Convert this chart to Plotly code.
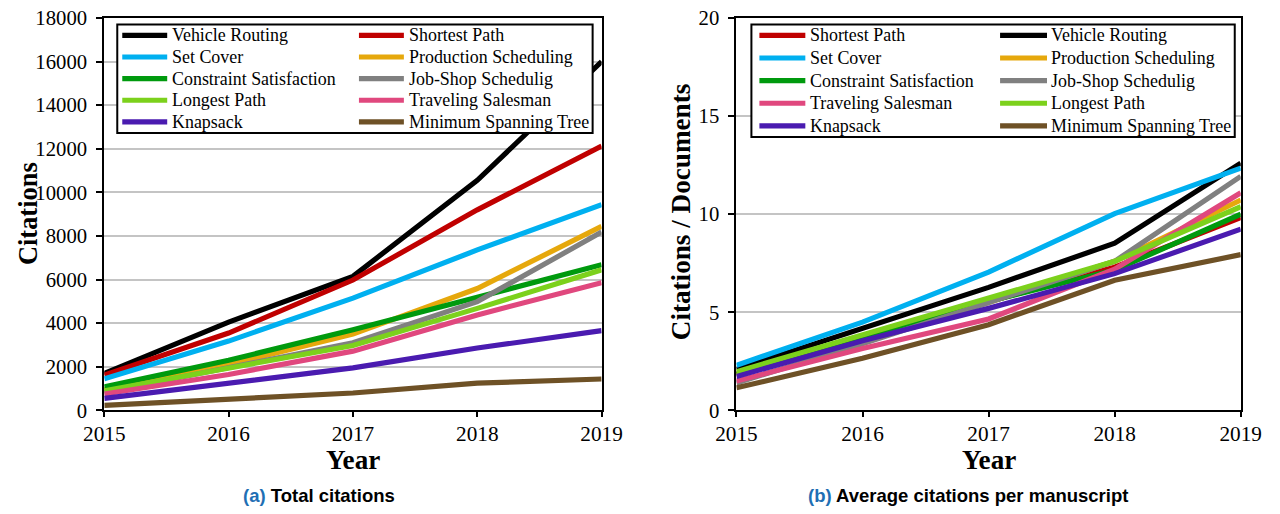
import plotly.graph_objects as go

W, H = 1280, 514

years = [2015, 2016, 2017, 2018, 2019]

# Total citations per year
total_vehicle_routing = [1700, 4050, 6150, 10550, 16000]
total_shortest_path = [1620, 3550, 5980, 9200, 12130]
total_set_cover = [1450, 3180, 5150, 7360, 9440]
total_production_scheduling = [950, 2100, 3500, 5590, 8440]
total_constraint_satisfaction = [1080, 2300, 3700, 5200, 6680]
total_job_shop = [820, 1950, 3100, 4990, 8180]
total_longest_path = [900, 1930, 2980, 4680, 6450]
total_traveling_salesman = [750, 1650, 2720, 4380, 5860]
total_knapsack = [550, 1220, 1950, 2860, 3660]
total_min_spanning_tree = [230, 520, 800, 1250, 1440]

# Average citations per document
avg_shortest_path = [1.85, 3.65, 5.55, 7.3, 9.83]
avg_vehicle_routing = [2.1, 4.2, 6.27, 8.52, 12.6]
avg_set_cover = [2.3, 4.5, 7.05, 10.03, 12.35]
avg_production_scheduling = [1.8, 3.6, 5.5, 7.6, 10.72]
avg_constraint_satisfaction = [1.85, 3.65, 5.55, 7.15, 10.0]
avg_job_shop = [1.4, 3.4, 5.5, 7.6, 11.93]
avg_traveling_salesman = [1.5, 3.15, 4.66, 7.2, 11.09]
avg_longest_path = [1.97, 3.85, 5.71, 7.6, 10.38]
avg_knapsack = [1.73, 3.55, 5.2, 6.97, 9.24]
avg_min_spanning_tree = [1.15, 2.66, 4.37, 6.63, 7.94]

y_ticks_total = [0, 2000, 4000, 6000, 8000, 10000, 12000, 14000, 16000, 18000]
y_ticks_avg = [0, 5, 10, 15, 20]

total_series = [
    ("Vehicle Routing", total_vehicle_routing),
    ("Shortest Path", total_shortest_path),
    ("Set Cover", total_set_cover),
    ("Production Scheduling", total_production_scheduling),
    ("Constraint Satisfaction", total_constraint_satisfaction),
    ("Job-Shop Schedulig", total_job_shop),
    ("Longest Path", total_longest_path),
    ("Traveling Salesman", total_traveling_salesman),
    ("Knapsack", total_knapsack),
    ("Minimum Spanning Tree", total_min_spanning_tree),
]
avg_series = [
    ("Shortest Path", avg_shortest_path),
    ("Vehicle Routing", avg_vehicle_routing),
    ("Set Cover", avg_set_cover),
    ("Production Scheduling", avg_production_scheduling),
    ("Constraint Satisfaction", avg_constraint_satisfaction),
    ("Job-Shop Schedulig", avg_job_shop),
    ("Traveling Salesman", avg_traveling_salesman),
    ("Longest Path", avg_longest_path),
    ("Knapsack", avg_knapsack),
    ("Minimum Spanning Tree", avg_min_spanning_tree),
]

colors = {
    "Vehicle Routing": "#000000",
    "Shortest Path": "#C00000",
    "Set Cover": "#00B0F0",
    "Production Scheduling": "#E6A80C",
    "Constraint Satisfaction": "#009A0E",
    "Job-Shop Schedulig": "#808080",
    "Longest Path": "#7CD11C",
    "Traveling Salesman": "#E0487E",
    "Knapsack": "#4A1BB0",
    "Minimum Spanning Tree": "#6E5126",
}

SERIF = "Liberation Serif"
SANS = "Liberation Sans"

# Layout positions are written on an inset grid: grid = G0 + S * page px.
GX0, GXS = 20.6, 0.9685
GY0, GYS = 10.5, 0.961
K = (GXS + GYS) / 2


def fx(gx):
    return (gx - GX0) / GXS / W


def fy(gy):
    return 1 - (gy - GY0) / GYS / H


def sz(v):
    return round(v / K, 2)


fig = go.Figure()

for name, vals in total_series:
    fig.add_trace(go.Scatter(x=years, y=vals, mode="lines", name=name,
                             line=dict(color=colors[name], width=sz(5)),
                             xaxis="x", yaxis="y", showlegend=False))
for name, vals in avg_series:
    fig.add_trace(go.Scatter(x=years, y=vals, mode="lines", name=name,
                             line=dict(color=colors[name], width=sz(5)),
                             xaxis="x2", yaxis="y2", showlegend=False))

y_dom = [fy(411.5), fy(17.5)]

common_x = dict(range=[2015, 2019], tickmode="array", tickvals=years,
                tickformat="d",
                showline=True, linecolor="black", linewidth=2, mirror=True,
                ticks="outside", ticklen=5, tickwidth=2, tickcolor="black",
                showgrid=False, zeroline=False, ticklabelstandoff=-2,
                ticklabeloverflow="allow",
                tickfont=dict(family=SERIF, size=sz(20.5), color="black"))
common_y = dict(showline=True, linecolor="black", linewidth=2, mirror=True,
                ticks="outside", ticklen=6, tickwidth=2, tickcolor="black",
                tickmode="array", tickformat="d",
                showgrid=True, gridcolor="#C4C4C4", gridwidth=1.5,
                zeroline=False, ticklabelstandoff=5,
                ticklabeloverflow="allow",
                tickfont=dict(family=SERIF, size=sz(20), color="black"))

fig.update_layout(
    width=W, height=H, autosize=False,
    margin=dict(l=0, r=0, t=0, b=0, pad=0),
    paper_bgcolor="white", plot_bgcolor="white",
    xaxis=dict(domain=[fx(104), fx(602)], anchor="y", **common_x),
    yaxis=dict(domain=y_dom, anchor="x", range=[0, 18000],
               tickvals=y_ticks_total, **common_y),
    xaxis2=dict(domain=[fx(737), fx(1242)], anchor="y2", **common_x),
    yaxis2=dict(domain=y_dom, anchor="x2", range=[0, 20],
                tickvals=y_ticks_avg, **common_y),
)

shapes = []
annotations = []


def add_legend(series, box, row0, row_step, col_samples, col_text):
    x0, x1, y0, y1 = box
    shapes.append(dict(type="rect", xref="paper", yref="paper",
                       x0=fx(x0), x1=fx(x1), y0=fy(y1), y1=fy(y0),
                       line=dict(color="black", width=2),
                       fillcolor="white", layer="above"))
    for i, (name, _) in enumerate(series):
        row, col = divmod(i, 2)
        yc = row0 + row * row_step
        sx0, sx1 = col_samples[col]
        shapes.append(dict(type="line", xref="paper", yref="paper",
                           x0=fx(sx0), x1=fx(sx1), y0=fy(yc), y1=fy(yc),
                           line=dict(color=colors[name], width=sz(5)),
                           layer="above"))
        annotations.append(dict(text=name, xref="paper", yref="paper",
                                x=fx(col_text[col]), y=fy(yc),
                                xanchor="left", yanchor="middle",
                                showarrow=False,
                                font=dict(family=SERIF, size=sz(17.3),
                                          color="black")))


add_legend(total_series, (117, 593, 24, 133), 35, 21.7,
           [(122, 167), (359, 404)], [170, 407])
add_legend(avg_series, (752, 1236, 24, 137), 35, 22.7,
           [(760, 806), (1001, 1048)], [809, 1050])

title_font = dict(family=SERIF, size=sz(26.2), color="black")
side_title_font = dict(family=SERIF, size=sz(25.5), color="black")
caption_font = dict(family=SANS, size=sz(17.85), color="black")
extra = [
    dict(text="<b>Citations</b>", x=fx(27), y=fy(214), textangle=-90,
         font=side_title_font),
    dict(text="<b>Citations / Documents</b>", x=fx(681), y=fy(213),
         textangle=-90, font=title_font),
    dict(text="<b>Year</b>", x=fx(353), y=fy(461), font=title_font),
    dict(text="<b>Year</b>", x=fx(990), y=fy(461), font=title_font),
    dict(text="<b><span style='color:#1F6FB4'>(a)</span> Total citations</b>",
         x=fx(319), y=fy(497), font=caption_font),
    dict(text="<b><span style='color:#1F6FB4'>(b)</span> Average citations per manuscript</b>",
         x=fx(969), y=fy(497), font=caption_font),
]
for a in extra:
    a.update(xref="paper", yref="paper", xanchor="center", yanchor="middle",
             showarrow=False)
annotations += extra

fig.update_layout(shapes=shapes, annotations=annotations)

fig.write_html("out.html")
